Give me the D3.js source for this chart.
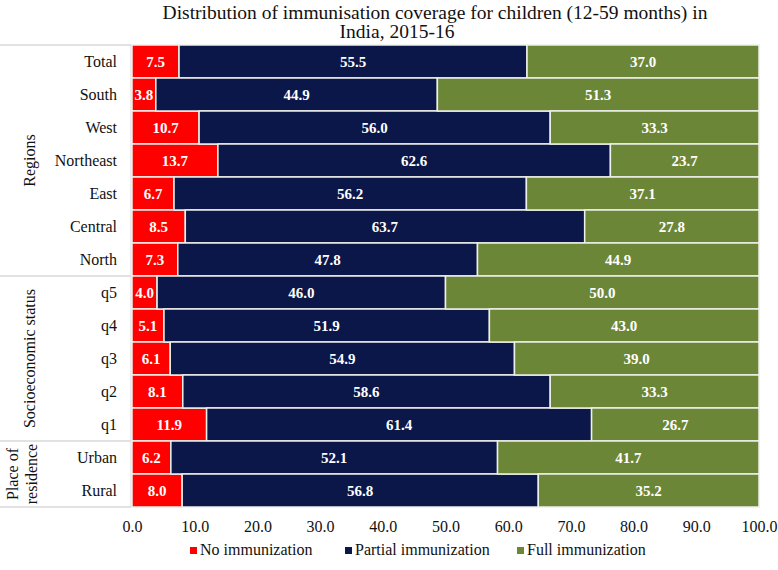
<!DOCTYPE html>
<html>
<head>
<meta charset="utf-8">
<script src="https://cdn.jsdelivr.net/npm/d3@7"></script>
<style>
  html, body { margin: 0; padding: 0; background: #fff; }
  svg { display: block; font-family: "Liberation Serif", "Times New Roman", serif; }
  svg text { font-family: "Liberation Serif", "Times New Roman", serif; }
</style>
</head>
<body>
<svg id="chart" width="778" height="570"></svg>
<script>
// ---- data ----
const categories = ["Total", "South", "West", "Northeast", "East", "Central", "North",
                    "q5", "q4", "q3", "q2", "q1", "Urban", "Rural"];
const noImmunization      = [7.5, 3.8, 10.7, 13.7, 6.7, 8.5, 7.3, 4.0, 5.1, 6.1, 8.1, 11.9, 6.2, 8.0];
const partialImmunization = [55.5, 44.9, 56.0, 62.6, 56.2, 63.7, 47.8, 46.0, 51.9, 54.9, 58.6, 61.4, 52.1, 56.8];
const fullImmunization    = [37.0, 51.3, 33.3, 23.7, 37.1, 27.8, 44.9, 50.0, 43.0, 39.0, 33.3, 26.7, 41.7, 35.2];
const seriesNames = ["No immunization", "Partial immunization", "Full immunization"];
const groups = [
  { lines: ["Regions"], from: "Total", to: "North" },
  { lines: ["Socioeconomic status"], from: "q5", to: "q1" },
  { lines: ["Place of", "residence"], from: "Urban", to: "Rural" }
];
const xTicks = [0, 10, 20, 30, 40, 50, 60, 70, 80, 90, 100];
const titleLines = ["Distribution of immunisation coverage for children (12-59 months) in", "India, 2015-16"];

// ---- setup ----
const colors = ["#FF0000", "#0C1749", "#6C8638"];
const svg = d3.select("#chart");
const x = d3.scaleLinear().domain([0, 100]).range([132, 759]);
const y = d3.scaleBand().domain(categories).range([45, 507]).paddingInner(0).paddingOuter(0);

const data = categories.map((c, i) => ({
  cat: c,
  vals: [noImmunization[i], partialImmunization[i], fullImmunization[i]]
}));
const stack = d3.stack().keys([0, 1, 2]).value((d, k) => d.vals[k]);
const stacked = stack(data);

// title
svg.append("text").attr("x", 435).attr("y", 19).attr("text-anchor", "middle")
  .attr("font-size", 19.5).attr("fill", "#111").text(titleLines[0]);
svg.append("text").attr("x", 397).attr("y", 38).attr("text-anchor", "middle")
  .attr("font-size", 19.5).attr("fill", "#111").text(titleLines[1]);

// left table lines
const lineColor = "#d9d9d9";
const boundaries = [45];
groups.forEach(g => boundaries.push(y(g.to) + y.bandwidth()));
svg.append("g").selectAll("line").data(boundaries).join("line")
  .attr("x1", 0).attr("x2", 132).attr("y1", d => d).attr("y2", d => d)
  .attr("stroke", lineColor).attr("stroke-width", 1.5);
svg.append("line").attr("x1", 131).attr("x2", 131).attr("y1", 45).attr("y2", 507)
  .attr("stroke", lineColor).attr("stroke-width", 1);

// bars
const layers = svg.append("g").selectAll("g").data(stacked).join("g")
  .attr("fill", (d, i) => colors[i]);
layers.selectAll("rect").data(d => d).join("rect")
  .attr("x", d => x(d[0]))
  .attr("width", d => x(d[1]) - x(d[0]))
  .attr("y", d => y(d.data.cat))
  .attr("height", y.bandwidth())
  .attr("stroke", "#eef0ea").attr("stroke-width", 1.5);

// value labels
const labelG = svg.append("g");
stacked.forEach((layer, k) => {
  labelG.selectAll(null).data(layer).join("text")
    .attr("x", d => (x(d[0]) + x(d[1])) / 2)
    .attr("y", d => y(d.data.cat) + y.bandwidth() / 2 + 5)
    .attr("text-anchor", "middle")
    .attr("font-size", 15).attr("font-weight", "bold").attr("fill", "#fff")
    .text(d => d.data.vals[k].toFixed(1));
});

// category labels
svg.append("g").selectAll("text").data(categories).join("text")
  .attr("x", 117).attr("y", d => y(d) + y.bandwidth() / 2 + 5.5)
  .attr("text-anchor", "end").attr("font-size", 16).attr("fill", "#111")
  .text(d => d);

// group labels (rotated)
groups.forEach(g => {
  const cy = (y(g.from) + y(g.to) + y.bandwidth()) / 2;
  const n = g.lines.length;
  const xs = n === 1 ? [35] : [18, 37];
  g.lines.forEach((ln, j) => {
    svg.append("text")
      .attr("transform", `translate(${xs[j]},${cy}) rotate(-90)`)
      .attr("text-anchor", "middle").attr("font-size", 16).attr("fill", "#111")
      .text(ln);
  });
});

// x axis
const xAxis = d3.axisBottom(x).tickValues(xTicks).tickFormat(d => d.toFixed(1)).tickSize(0).tickPadding(0);
const ax = svg.append("g").attr("transform", "translate(0,517)").call(xAxis);
ax.attr("font-family", null);
ax.select(".domain").remove();
ax.selectAll("text").attr("font-size", 16).attr("fill", "#111").attr("dy", "0.95em");

// legend
const legendX = [190, 345, 517];
const lg = svg.append("g").selectAll("g").data(seriesNames).join("g")
  .attr("transform", (d, i) => `translate(${legendX[i]},555)`);
lg.append("rect").attr("x", 0).attr("y", -8).attr("width", 7).attr("height", 7)
  .attr("fill", (d, i) => colors[i]);
lg.append("text").attr("x", 10).attr("y", 0).attr("font-size", 16).attr("fill", "#111")
  .text(d => d);
</script>
</body>
</html>
